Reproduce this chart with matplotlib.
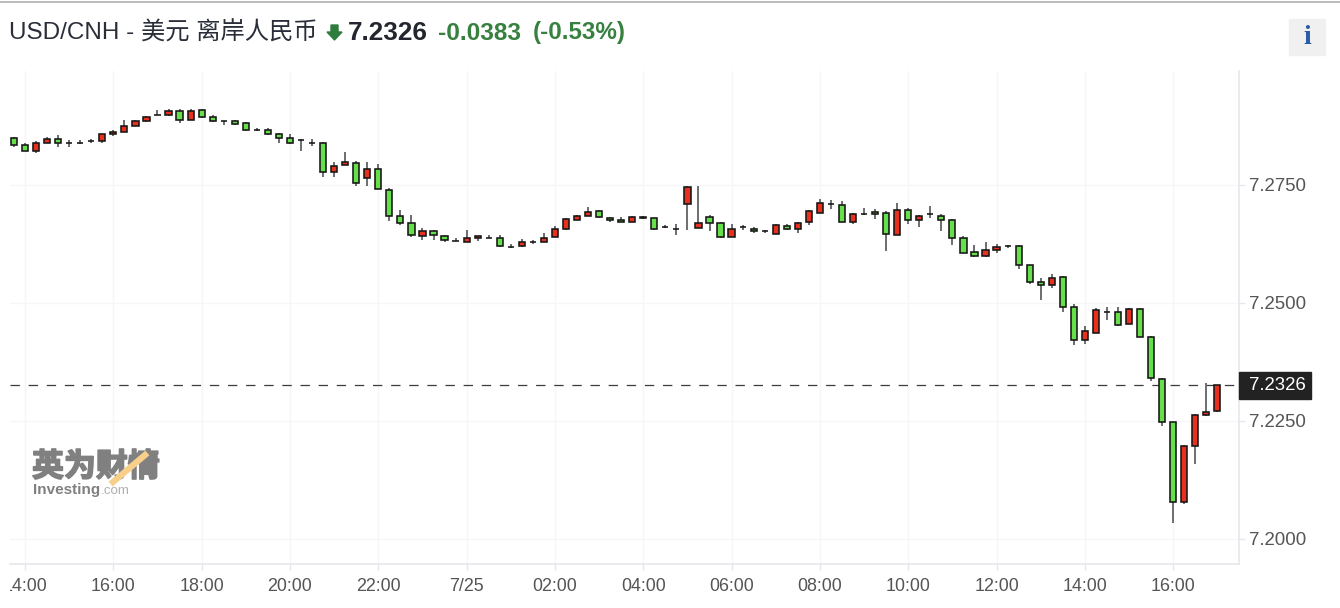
import matplotlib
matplotlib.use('Agg')
import matplotlib.pyplot as plt
import matplotlib.patheffects as pe
import numpy as np
from matplotlib.lines import Line2D
from matplotlib.patches import Polygon, Rectangle
from matplotlib.transforms import Bbox

# 15 minute candles
opens = [7.2850, 7.2835, 7.2821, 7.2840, 7.2847, 7.2838, 7.2838, 7.2844, 7.2844, 7.2857,
         7.2863, 7.2876, 7.2885, 7.2899, 7.2898, 7.2907, 7.2888, 7.2908, 7.2895, 7.2886,
         7.2886, 7.2882, 7.2867, 7.2867, 7.2857, 7.2850, 7.2846, 7.2840, 7.2840, 7.2777,
         7.2793, 7.2797, 7.2764, 7.2784, 7.2739, 7.2685, 7.2670, 7.2641, 7.2653, 7.2641,
         7.2632, 7.2630, 7.2637, 7.2638, 7.2638, 7.2619, 7.2621, 7.2629, 7.2630, 7.2640,
         7.2656, 7.2675, 7.2685, 7.2695, 7.2680, 7.2676, 7.2672, 7.2682, 7.2679, 7.2660,
         7.2657, 7.2710, 7.2659, 7.2682, 7.2670, 7.2640, 7.2660, 7.2657, 7.2653, 7.2647,
         7.2663, 7.2656, 7.2672, 7.2691, 7.2709, 7.2708, 7.2672, 7.2689, 7.2692, 7.2691,
         7.2643, 7.2698, 7.2675, 7.2689, 7.2685, 7.2675, 7.2637, 7.2608, 7.2599, 7.2612,
         7.2621, 7.2621, 7.2580, 7.2545, 7.2538, 7.2556, 7.2491, 7.2421, 7.2437, 7.2481,
         7.2481, 7.2456, 7.2488, 7.2428, 7.2338, 7.2247, 7.2078, 7.2196, 7.2262, 7.2272]
highs = [7.2852, 7.2838, 7.2843, 7.2851, 7.2855, 7.2845, 7.2845, 7.2848, 7.2859, 7.2867,
         7.2887, 7.2887, 7.2897, 7.2909, 7.2912, 7.2912, 7.2912, 7.2911, 7.2899, 7.2886,
         7.2887, 7.2883, 7.2871, 7.2870, 7.2861, 7.2857, 7.2847, 7.2847, 7.2842, 7.2798,
         7.2820, 7.2800, 7.2798, 7.2794, 7.2743, 7.2696, 7.2686, 7.2658, 7.2655, 7.2645,
         7.2638, 7.2654, 7.2642, 7.2644, 7.2644, 7.2624, 7.2635, 7.2633, 7.2648, 7.2663,
         7.2679, 7.2687, 7.2703, 7.2696, 7.2683, 7.2683, 7.2684, 7.2684, 7.2681, 7.2665,
         7.2667, 7.2747, 7.2747, 7.2686, 7.2671, 7.2667, 7.2665, 7.2660, 7.2655, 7.2667,
         7.2667, 7.2671, 7.2696, 7.2721, 7.2718, 7.2715, 7.2691, 7.2702, 7.2699, 7.2695,
         7.2711, 7.2701, 7.2686, 7.2705, 7.2689, 7.2677, 7.2641, 7.2622, 7.2629, 7.2626,
         7.2622, 7.2623, 7.2581, 7.2552, 7.2562, 7.2557, 7.2498, 7.2451, 7.2489, 7.2492,
         7.2492, 7.2489, 7.2489, 7.2431, 7.2341, 7.2247, 7.2200, 7.2264, 7.2331, 7.2326]
lows = [7.2830, 7.2821, 7.2817, 7.2840, 7.2830, 7.2830, 7.2836, 7.2840, 7.2840, 7.2853,
        7.2862, 7.2875, 7.2884, 7.2898, 7.2897, 7.2881, 7.2887, 7.2892, 7.2884, 7.2877,
        7.2878, 7.2865, 7.2865, 7.2855, 7.2840, 7.2836, 7.2823, 7.2833, 7.2766, 7.2766,
        7.2792, 7.2747, 7.2747, 7.2741, 7.2674, 7.2665, 7.2640, 7.2633, 7.2633, 7.2630,
        7.2631, 7.2629, 7.2632, 7.2637, 7.2619, 7.2617, 7.2619, 7.2624, 7.2629, 7.2639,
        7.2655, 7.2675, 7.2684, 7.2681, 7.2672, 7.2671, 7.2671, 7.2678, 7.2655, 7.2658,
        7.2643, 7.2655, 7.2658, 7.2652, 7.2637, 7.2639, 7.2655, 7.2649, 7.2649, 7.2646,
        7.2655, 7.2649, 7.2665, 7.2690, 7.2700, 7.2671, 7.2667, 7.2687, 7.2678, 7.2611,
        7.2643, 7.2668, 7.2662, 7.2681, 7.2652, 7.2623, 7.2605, 7.2598, 7.2598, 7.2605,
        7.2617, 7.2573, 7.2541, 7.2506, 7.2531, 7.2480, 7.2410, 7.2414, 7.2436, 7.2464,
        7.2452, 7.2455, 7.2427, 7.2334, 7.2239, 7.2033, 7.2074, 7.2159, 7.2261, 7.2268]
closes = [7.2834, 7.2821, 7.2840, 7.2847, 7.2838, 7.2838, 7.2838, 7.2844, 7.2857, 7.2863,
          7.2876, 7.2886, 7.2895, 7.2899, 7.2907, 7.2888, 7.2907, 7.2895, 7.2885, 7.2886,
          7.2879, 7.2866, 7.2867, 7.2857, 7.2850, 7.2838, 7.2846, 7.2840, 7.2777, 7.2790,
          7.2799, 7.2755, 7.2784, 7.2742, 7.2685, 7.2669, 7.2643, 7.2653, 7.2644, 7.2633,
          7.2632, 7.2638, 7.2641, 7.2638, 7.2621, 7.2619, 7.2629, 7.2629, 7.2638, 7.2657,
          7.2677, 7.2685, 7.2692, 7.2682, 7.2675, 7.2672, 7.2682, 7.2679, 7.2656, 7.2660,
          7.2657, 7.2746, 7.2670, 7.2669, 7.2640, 7.2657, 7.2660, 7.2653, 7.2653, 7.2666,
          7.2656, 7.2670, 7.2695, 7.2711, 7.2709, 7.2672, 7.2688, 7.2689, 7.2688, 7.2647,
          7.2698, 7.2675, 7.2685, 7.2689, 7.2675, 7.2637, 7.2605, 7.2599, 7.2612, 7.2618,
          7.2621, 7.2580, 7.2545, 7.2538, 7.2552, 7.2491, 7.2421, 7.2440, 7.2485, 7.2481,
          7.2453, 7.2487, 7.2427, 7.2341, 7.2247, 7.2078, 7.2196, 7.2262, 7.2269, 7.2326]

x_labels = ['14:00', '16:00', '18:00', '20:00', '22:00', '7/25', '02:00', '04:00',
            '06:00', '08:00', '10:00', '12:00', '14:00', '16:00']
y_ticks = [7.2000, 7.2250, 7.2500, 7.2750]
last_price = 7.2326

W, H = 1340, 608
plt.rcParams['font.family'] = ['Liberation Sans', 'Noto Sans CJK SC', 'DejaVu Sans']

fig = plt.figure(figsize=(W / 100, H / 100), dpi=100, facecolor='white')
ax = fig.add_axes([10 / W, (H - 563.5) / H, 1229 / W, 492.5 / H])

opens = np.array(opens)
closes = np.array(closes)
xs = np.arange(len(opens))
colors = ['#e8301f' if c > o else '#66e04a' for o, c in zip(opens, closes)]

ax.axhline(last_price, color='#3c3c3c', lw=0.9, dashes=(7.5, 7), zorder=2)
ax.vlines(xs, lows, highs, color='#5f6366', lw=1.3, zorder=3)
ax.bar(xs, np.abs(closes - opens), bottom=np.minimum(opens, closes), width=0.56,
       color=colors, edgecolor='#151515', linewidth=1.15, zorder=4)

ax.set_xlim(-0.36, 110.96)
ax.set_ylim(7.1948, 7.29915)

ax.set_xticks(np.arange(1, 106, 8))
ax.set_xticklabels(x_labels)
ax.yaxis.tick_right()
ax.set_yticks(y_ticks)
ax.set_yticklabels(['%.4f' % v for v in y_ticks])
ax.grid(True, color='#f6f6f8', lw=1)
ax.set_axisbelow(True)
ax.tick_params(axis='x', length=4, width=1, color='#e6e6ec', labelsize=12.9, labelcolor='#555555', pad=6.5)
ax.tick_params(axis='y', length=4, width=1, color='#e6e6ec', labelsize=13.4, labelcolor='#555555', pad=3.2)

for s in ['top', 'left']:
    ax.spines[s].set_visible(False)
for s in ['right', 'bottom']:
    ax.spines[s].set_color('#e6e6ec')
    ax.spines[s].set_linewidth(1.2)

# first hour label is cut by the left edge of the chart
first = ax.get_xticklabels()[0]
first.set_clip_on(True)
first.set_clip_box(Bbox([[10, 0], [W, H]]))


def px(x, y):
    return x / W, 1 - y / H


# header
fig.add_artist(Line2D([0, 1], [1 - 1.5 / H] * 2, color='#b0b0b0', lw=1.2))
fig.text(*px(9, 33), 'USD/CNH - 美元 离岸人民币', fontsize=17.5, color='#2a2e39', va='center')
fig.add_artist(Polygon([px(331, 25), px(338, 25), px(338, 32), px(342, 32), px(334.5, 40), px(327, 32), px(331, 32)],
                       closed=True, color='#2f7d3c', transform=fig.transFigure))
fig.text(*px(348, 33), '7.2326', fontsize=18.8, fontweight='bold', color='#23262e', va='center')
fig.text(*px(438, 33), '-0.0383', fontsize=17.6, fontweight='bold', color='#37803f', va='center')
fig.text(*px(533, 33), '(-0.53%)', fontsize=17.4, fontweight='bold', color='#37803f', va='center')

# info button
fig.add_artist(Rectangle(px(1289, 55), 36 / W, 36 / H, color='#f0f0f0', transform=fig.transFigure))
fig.text(*px(1307, 37), 'i', family='Liberation Serif', fontsize=20, fontweight='bold', color='#2a5ca8',
         ha='center', va='center')

# last price tag
fig.add_artist(Rectangle(px(1239, 399), 72 / W, 27 / H, color='#222222', transform=fig.transFigure, zorder=5))
fig.text(*px(1249, 386), '%.4f' % last_price, fontsize=13.4, color='white', va='center', zorder=6)

# watermark
fig.text(*px(32, 468), '英为财情', fontsize=23, fontweight='bold', color='#808080', va='center',
         path_effects=[pe.withStroke(linewidth=1.2, foreground='#808080')])
fig.add_artist(Line2D([113 / W, 145 / W], [1 - 482 / H, 1 - 455 / H], color='#f8cf8a', lw=4.5, zorder=5))
fig.text(*px(33, 490), 'Investing', fontsize=11, fontweight='bold', color='#808080', va='center')
fig.text(*px(101, 491), '.com', fontsize=9.6, color='#b0b0b0', va='center')

fig.savefig('out.png', dpi=100)
